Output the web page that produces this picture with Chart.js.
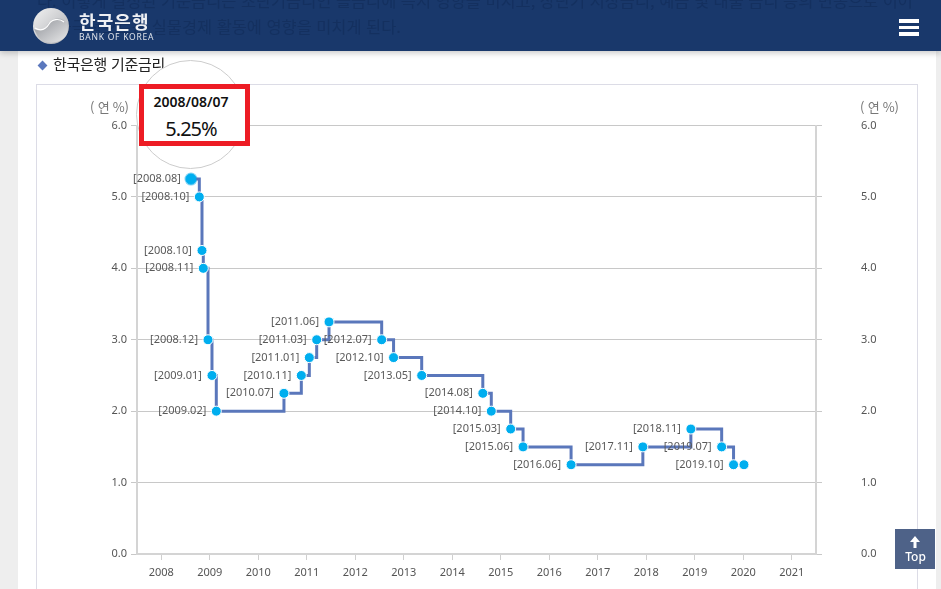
<!DOCTYPE html>
<html lang="ko">
<head>
<meta charset="utf-8">
<title>한국은행 기준금리</title>
<script src="https://cdn.jsdelivr.net/npm/chart.js@4"></script>
<style>
  html, body { margin: 0; padding: 0; width: 941px; height: 589px; overflow: hidden; background: #fff; }
  body { position: relative; font-family: "Noto Sans CJK KR", "Noto Sans", sans-serif; }
  .gutter { position: absolute; top: 0; bottom: 0; background: #eeeeee; }
  .gutter.left { left: 0; width: 18px; }
  .gutter.right { left: 936px; width: 5px; }
  .frame { position: absolute; left: 36px; top: 84px; width: 880px; height: 520px; border: 1px solid #dcdce6; }
  #chart { position: absolute; left: 0; top: 0; }
  .header { position: absolute; left: 0; top: 0; width: 941px; height: 51px; background: #19386b; box-shadow: 0 2px 6px rgba(0,0,0,.22); overflow: hidden; }
  .behind { position: absolute; left: 37px; white-space: nowrap; color: #14305f; font-size: 16.4px; line-height: 20px; }
  .logo-ko { position: absolute; left: 79px; top: 8px; color: #eef0f4; font-size: 18px; font-weight: 700; letter-spacing: 1.1px; line-height: 26px; }
  .logo-en { position: absolute; left: 79px; top: 31px; color: #dfe3ea; font-family: "Noto Sans", sans-serif; font-size: 8.5px; letter-spacing: 0.75px; line-height: 12px; }
  .bars { position: absolute; left: 899px; width: 20px; height: 3.5px; background: #fff; }
  .section { position: absolute; left: 53px; top: 54px; color: #222; font-size: 15px; line-height: 20px; letter-spacing: -0.3px; }
  .diamond { position: absolute; left: 38.5px; top: 61.5px; width: 7px; height: 7px; background: #5b78bd; transform: rotate(45deg); }
  .unit { position: absolute; top: 97px; color: #777; font-size: 13px; line-height: 20px; letter-spacing: -0.2px; }
  .circle { position: absolute; left: 136px; top: 60px; width: 107px; height: 107px; border: 1px solid #cccccc; border-radius: 50%; background: #fff; }
  .callout { position: absolute; left: 139px; top: 84px; width: 101px; height: 52px; border: 5px solid #ed1c24; background: #fff; }
  .callout-date { position: absolute; left: 139px; top: 92px; width: 104px; text-align: center; color: #111; font-family: "Noto Sans", sans-serif; font-size: 14px; font-weight: 600; line-height: 20px; }
  .callout-rate { position: absolute; left: 139px; top: 115px; width: 104px; text-align: center; color: #111; font-family: "Noto Sans", sans-serif; font-size: 20px; letter-spacing: -1px; line-height: 28px; }
  .top-btn { position: absolute; left: 895px; top: 529px; width: 40px; height: 40px; background: rgba(68,90,130,.95); color: #fff; text-align: center; font-family: "Noto Sans", sans-serif; font-size: 12px; font-weight: 500; }
  .top-btn span { position: absolute; left: 1px; right: 0; top: 20px; line-height: 16px; }
  .top-btn svg { position: absolute; left: 14px; top: 7px; }
</style>
</head>
<body>
<div class="gutter left"></div>
<div class="gutter right"></div>
<div class="frame"></div>
<canvas id="chart" width="941" height="589"></canvas>

<div class="section">한국은행 기준금리</div>
<div class="diamond"></div>
<div class="unit" style="left:90px">( 연 %)</div>
<div class="unit" style="left:860px">( 연 %)</div>

<div class="circle"></div>
<div class="callout"></div>
<div class="callout-date" id="calloutDate"></div>
<div class="callout-rate" id="calloutRate"></div>

<div class="header">
  <div class="behind" style="top:-10px">다. 이렇게 결정된 기준금리는 초단기금리인 콜금리에 즉시 영향을 미치고, 장단기 시장금리, 예금 및 대출 금리 등의 변동으로 이어</div>
  <div class="behind" style="top:16px">져 궁극적으로는 실물경제 활동에 영향을 미치게 된다.</div>
  <svg style="position:absolute;left:33px;top:8px" width="36" height="36" viewBox="0 0 36 36">
    <defs>
      <linearGradient id="silverA" x1="0" y1="0" x2="1" y2="1">
        <stop offset="0" stop-color="#f2f2f2"/><stop offset="1" stop-color="#a9abb0"/>
      </linearGradient>
      <linearGradient id="silverB" x1="0" y1="0" x2="1" y2="1">
        <stop offset="0" stop-color="#8f9298"/><stop offset="1" stop-color="#e9e9ea"/>
      </linearGradient>
    </defs>
    <circle cx="18" cy="18" r="18" fill="url(#silverA)"/>
    <path d="M1 21 C8 24 12 21 15 16 C18 11 25 9 31 12 C36 16 36 24 32 29 C26 36 12 37 5 29 Z" fill="url(#silverB)"/>
    <path d="M2 20 C9 24 13 21 16 16 C19 11 26 10 31 14" fill="none" stroke="#ffffff" stroke-width="1.2"/>
  </svg>
  <div class="logo-ko">한국은행</div>
  <div class="logo-en">BANK OF KOREA</div>
  <div class="bars" style="top:19px"></div>
  <div class="bars" style="top:25.5px"></div>
  <div class="bars" style="top:32px"></div>
</div>

<div class="top-btn">
  <svg width="12" height="12" viewBox="0 0 12 12"><path d="M6 0 L11 6 H7.5 V12 H4.5 V6 H1 Z" fill="#fff"/></svg>
  <span>Top</span>
</div>

<script>
// Bank of Korea base rate: change dates as decimal years, rate in percent.
const rateDates = [
  2008.613, 2008.785, 2008.84, 2008.867, 2008.964, 2009.046, 2009.135,
  2010.53, 2010.888, 2011.053, 2011.205, 2011.459, 2012.545, 2012.79,
  2013.37, 2014.63, 2014.805, 2015.205, 2015.46, 2016.45,
  2017.93, 2018.92, 2019.555, 2019.80, 2020.015
];
const rateValues = [
  5.25, 5.00, 4.25, 4.00, 3.00, 2.50, 2.00,
  2.25, 2.50, 2.75, 3.00, 3.25, 3.00, 2.75,
  2.50, 2.25, 2.00, 1.75, 1.50, 1.25,
  1.50, 1.75, 1.50, 1.25, 1.25
];
const rateLabels = [
  "[2008.08]", "[2008.10]", "[2008.10]", "[2008.11]", "[2008.12]", "[2009.01]", "[2009.02]",
  "[2010.07]", "[2010.11]", "[2011.01]", "[2011.03]", "[2011.06]", "[2012.07]", "[2012.10]",
  "[2013.05]", "[2014.08]", "[2014.10]", "[2015.03]", "[2015.06]", "[2016.06]",
  "[2017.11]", "[2018.11]", "[2019.07]", "[2019.10]", ""
];
const yearTicks = [2008, 2009, 2010, 2011, 2012, 2013, 2014, 2015, 2016, 2017, 2018, 2019, 2020, 2021];
const rateTicks = [0, 1, 2, 3, 4, 5, 6];
const highlightIndex = 0;
const highlightDate = "2008/08/07";

document.getElementById("calloutDate").textContent = highlightDate;
document.getElementById("calloutRate").textContent = rateValues[highlightIndex].toFixed(2) + "%";

const axisText = { family: '"Noto Sans", sans-serif', size: 11 };
const pinTicks = list => scale => { scale.ticks = list.map(v => ({ value: v })); };

// Writes the "[yyyy.mm]" caption to the left of each marker.
const captionPlugin = {
  id: "rateCaptions",
  afterDatasetsDraw(chart) {
    const { ctx } = chart;
    const points = chart.getDatasetMeta(0).data;
    ctx.save();
    ctx.font = '11px "Noto Sans", sans-serif';
    ctx.fillStyle = "#5a5a5a";
    ctx.textAlign = "right";
    ctx.textBaseline = "middle";
    points.forEach((p, i) => ctx.fillText(rateLabels[i], p.x - 10, p.y));
    ctx.restore();
  }
};

new Chart(document.getElementById("chart"), {
  type: "line",
  data: {
    datasets: [
      {
        data: rateDates.map((x, i) => ({ x, y: rateValues[i] })),
        stepped: true,
        borderColor: "#5a77bb",
        borderWidth: 3,
        pointRadius: 5,
        pointBorderWidth: 1,
        pointBackgroundColor: "#00aeef",
        pointBorderColor: ctx => ctx.dataIndex === highlightIndex ? "#00aeef" : "#ffffff",
        fill: false
      },
      {
        data: [{ x: rateDates[highlightIndex], y: rateValues[highlightIndex] }],
        showLine: false,
        pointRadius: 6.5,
        pointBorderWidth: 0,
        pointBackgroundColor: "#7fd3f5"
      }
    ]
  },
  options: {
    responsive: false,
    animation: false,
    events: [],
    layout: { padding: { top: 125.5 } },
    plugins: { legend: { display: false }, tooltip: { enabled: false } },
    scales: {
      x: {
        type: "linear",
        min: 2007.5,
        max: 2021.5,
        afterBuildTicks: pinTicks(yearTicks),
        afterFit(scale) { scale.height = 35; },
        border: { color: "#d4d4d4", width: 2 },
        grid: { drawOnChartArea: false, tickLength: 6, color: "#cfcfcf" },
        ticks: { autoSkip: false, maxRotation: 0, color: "#555555", font: axisText, padding: 6, callback: v => String(v) }
      },
      y: {
        min: 0,
        max: 6,
        afterBuildTicks: pinTicks(rateTicks),
        afterFit(scale) { scale.width = 137; },
        border: { color: "#d4d4d4", width: 2 },
        grid: { color: "#c8c8c8", tickLength: 6 },
        ticks: { color: "#555555", font: axisText, padding: 4, callback: v => v.toFixed(1) }
      },
      yRight: {
        position: "right",
        display: true,
        min: 0,
        max: 6,
        afterBuildTicks: pinTicks(rateTicks),
        // The wide label gap must not count as vertical padding of the plot area.
        afterFit(scale) { scale.width = 125; scale.paddingTop = 7; scale.paddingBottom = 7; },
        border: { color: "#d4d4d4", width: 2 },
        grid: { drawOnChartArea: false, color: "#c8c8c8", tickLength: 6 },
        ticks: { color: "#555555", font: axisText, padding: 39, callback: v => v.toFixed(1) }
      }
    }
  },
  plugins: [captionPlugin]
});
</script>
</body>
</html>
